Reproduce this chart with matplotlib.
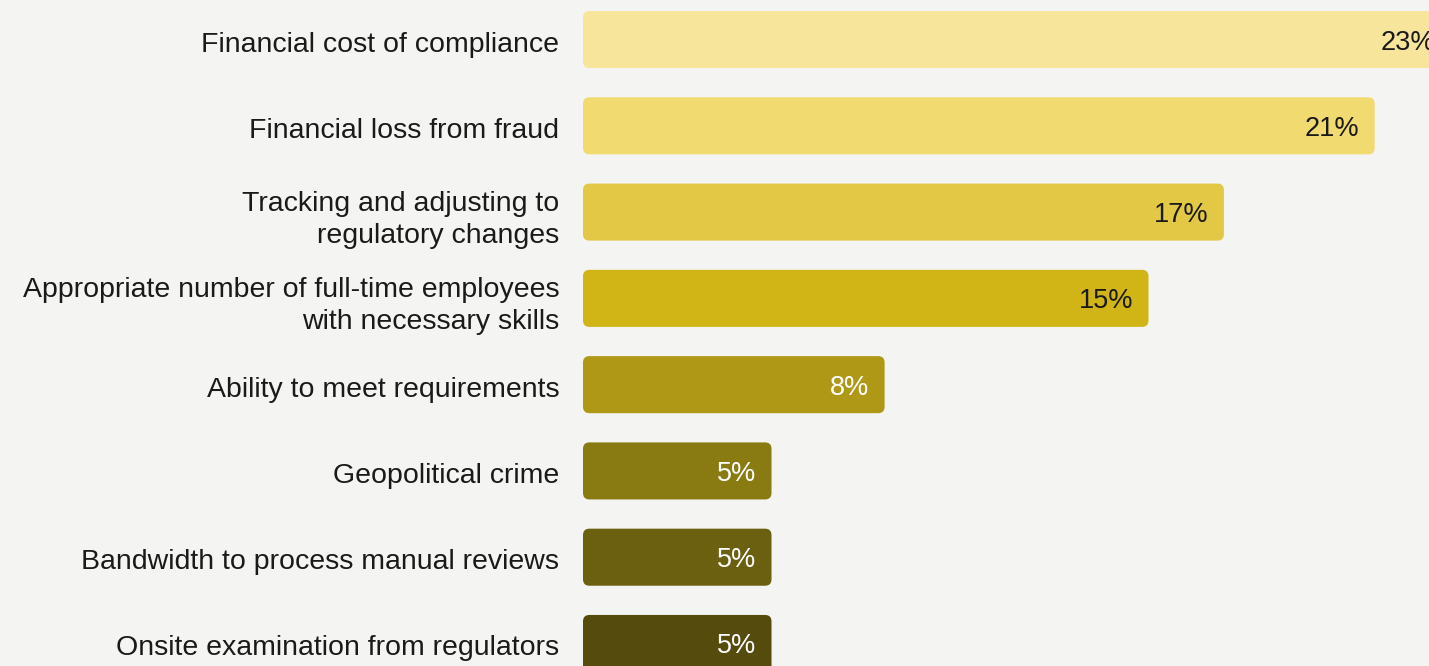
import matplotlib.pyplot as plt
from matplotlib.patches import FancyBboxPatch

# Survey results: biggest compliance challenges (% of respondents)
categories = [
    'Financial cost of compliance',
    'Financial loss from fraud',
    'Tracking and adjusting to\nregulatory changes',
    'Appropriate number of full-time employees\nwith necessary skills',
    'Ability to meet requirements',
    'Geopolitical crime',
    'Bandwidth to process manual reviews',
    'Onsite examination from regulators',
]
values = [23, 21, 17, 15, 8, 5, 5, 5]
bar_colors = ['#f8e59c', '#f1da70', '#e2c845', '#d1b516',
              '#af9816', '#8a7a12', '#6b5f10', '#554b0c']
text_colors = ['#1a1a1a', '#1a1a1a', '#1a1a1a', '#1a1a1a',
               'white', 'white', 'white', 'white']

bg = '#f4f4f2'
plt.rcParams['font.family'] = ['Liberation Sans', 'DejaVu Sans']

fig = plt.figure(figsize=(14.29, 6.66), dpi=100, facecolor=bg)
ax = fig.add_axes([583 / 1429, 0, 846 / 1429, 1])
ax.set_facecolor(bg)

px_per_unit = 37.7
row_px = 86.2
bar_h = 57 / row_px

for i, (v, c) in enumerate(zip(values, bar_colors)):
    box = FancyBboxPatch((0, i - bar_h / 2), v, bar_h,
                         boxstyle='round,pad=0,rounding_size=0.17',
                         mutation_aspect=px_per_unit / row_px,
                         facecolor=c, edgecolor='none')
    ax.add_patch(box)
    ax.text(v - 15 / px_per_unit, i + 3 / row_px, f'{v}%', ha='right', va='center',
            fontsize=19.5, color=text_colors[i])

ax.set_xlim(0, 846 / px_per_unit)
ax.set_ylim(7 + (666 - 643.5) / row_px, -39.5 / row_px)

ax.set_yticks([i + 2 / row_px for i in range(len(categories))])
ax.set_yticklabels(categories, fontsize=20.5, color='#1a1a1a', linespacing=1.3)
for lab in ax.get_yticklabels():
    lab.set_multialignment('right')
ax.tick_params(axis='y', length=0, pad=17)
ax.set_xticks([])
for s in ax.spines.values():
    s.set_visible(False)

fig.savefig('out.png', dpi=100, facecolor=bg)
